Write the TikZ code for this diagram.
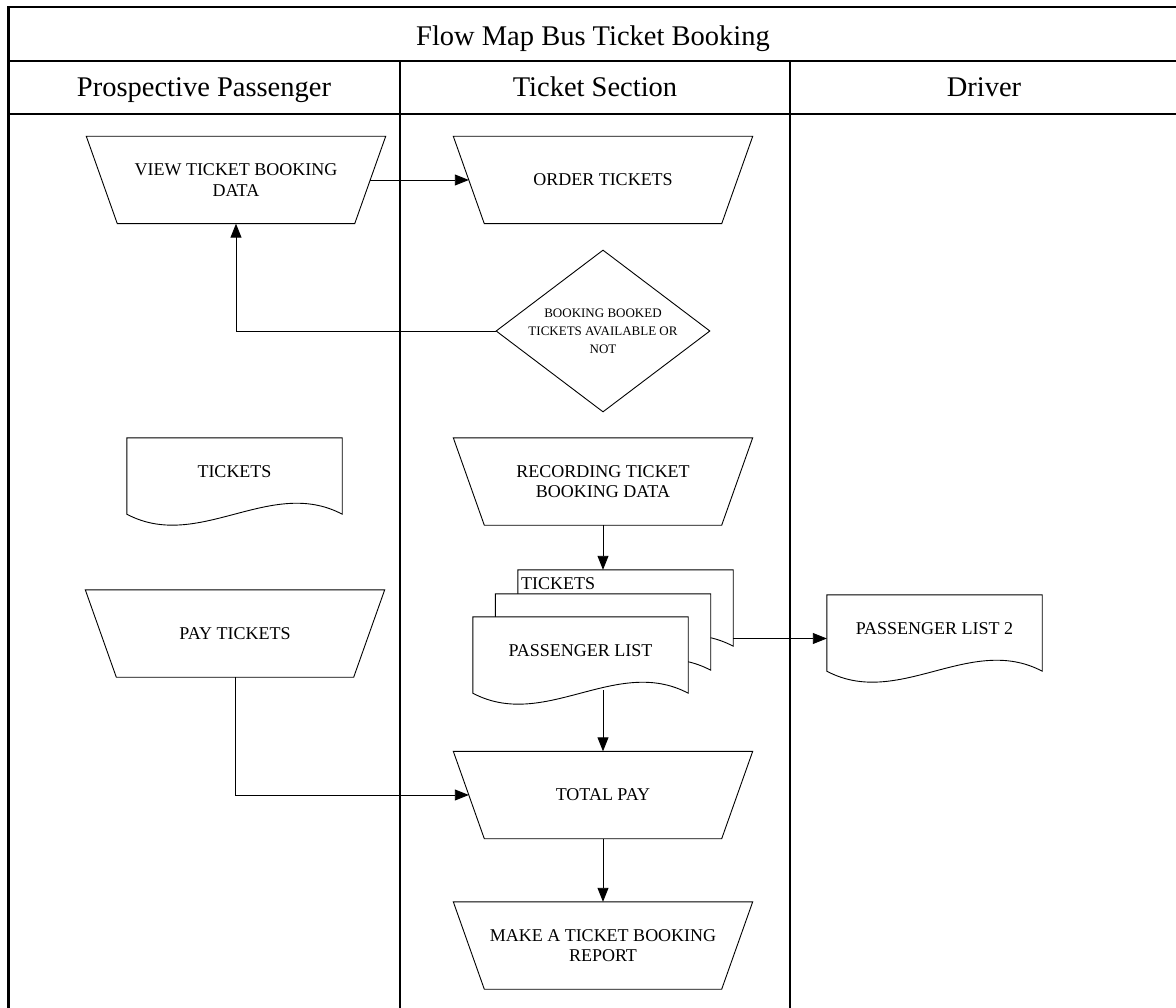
\documentclass[tikz,border=0pt]{standalone}
\usepackage{fontspec}
\setmainfont{Liberation Serif}
\usetikzlibrary{shapes.geometric,arrows.meta,calc}

\newcommand{\wavedoc}[1]{%
  \draw[shapeline, fill=white] (#1.north west) -- (#1.north east) -- ($(#1.south east)+(0,-11)$)
    .. controls ($($(#1.south east)!0.3333!(#1.south west)$)+(0,-49)$)
    and ($($(#1.south east)!0.6667!(#1.south west)$)+(0,27)$)
    .. ($(#1.south west)+(0,-11)$) -- cycle;}
\newcommand{\trapdraw}[1]{%
  \draw[shapeline] (#1.north west) -- (#1.north east) -- ($(#1.south east)+(-31,0)$)
    -- ($(#1.south west)+(31,0)$) -- cycle;}

\begin{document}
\begin{tikzpicture}[x=1pt,y=-1pt,
  frameline/.style={line width=2.2pt},
  shapeline/.style={line width=0.9pt},
  headtext/.style={font=\fontsize{28.5}{32}\selectfont, inner sep=0pt, anchor=base},
  proc/.style={rectangle, minimum width=299pt, minimum height=87pt, inner sep=0pt,
    align=center, font=\fontsize{18}{20.5}\selectfont},
  docbox/.style={rectangle, inner sep=0pt, minimum width=215pt, minimum height=87pt,
    text height=13pt, text depth=22pt, font=\fontsize{18}{20.5}\selectfont},
  decision/.style={diamond, draw, shapeline, minimum width=214pt, minimum height=162pt,
    aspect=1.32, inner sep=0pt, align=center, font=\fontsize{13}{18}\selectfont},
  arr/.style={shapeline, -{Triangle[length=14pt,width=11pt]}}]

\useasboundingbox (0,0) rectangle (1176,1008);
\clip (0,0) rectangle (1176,1008);

% table frame
\draw[frameline] (8.5,1015) -- (8.5,7) -- (1185,7);
\draw[frameline] (8.5,61) -- (1185,61);
\draw[frameline] (8.5,114) -- (1185,114);
\draw[frameline] (400,61) -- (400,1015);
\draw[frameline] (790,61) -- (790,1015);

\node[headtext] (title) at (593,46) {Flow Map Bus Ticket Booking};
\node[headtext] (h1) at (204,97) {Prospective Passenger};
\node[headtext] (h2) at (595,97) {Ticket Section};
\node[headtext] (h3) at (984,97) {Driver};

% processes (manual input trapezoids)
\node[proc] (view) at (236,180) {VIEW TICKET BOOKING\\DATA};
\trapdraw{view}
\node[proc] (order) at (603,180) {ORDER TICKETS};
\trapdraw{order}
\node[decision] (dia) at (603,331) {BOOKING BOOKED\\TICKETS AVAILABLE OR\\NOT};
\node[proc] (rec) at (603,481.5) {RECORDING TICKET\\BOOKING DATA};
\trapdraw{rec}
\node[proc] (pay) at (235,633.5) {PAY TICKETS};
\trapdraw{pay}
\node[proc] (total) at (603,795) {TOTAL PAY};
\trapdraw{total}
\node[proc] (make) at (603,945.5) {MAKE A TICKET BOOKING\\REPORT};
\trapdraw{make}

% documents
\node[docbox] (tk) at (234.5,481.5) {};
\wavedoc{tk}
\node[docbox] at (tk) {TICKETS};

\node[docbox] (p2) at (934.5,638.5) {};
\wavedoc{p2}
\node[docbox] at (p2) {PASSENGER LIST 2};

% multi-document
\node[docbox] (back) at (625.5,613.5) {};
\wavedoc{back}
\node[docbox] (mid) at (603,637.5) {};
\wavedoc{mid}
\node[docbox] (front) at (580.5,660.5) {};
\wavedoc{front}
\node[docbox] (flist) at (front) {PASSENGER LIST};
\node[anchor=west, inner sep=0pt, font=\fontsize{18}{20.5}\selectfont] (btk) at (521,584) {TICKETS};

% connectors
\draw[arr] ($(view.east)+(-15.5,0)$) -- ($(order.west)+(15.5,0)$);
\draw[arr] (dia.west) -| (view.south);
\draw[arr] (rec.south) -- (rec.south |- back.north);
\draw[arr] (back.east |- p2.west) -- (p2.west);
\draw[arr] ($(total.north |- front.south)+(0,-14)$) -- (total.north);
\draw[arr] (pay.south) |- ($(total.west)+(15.5,0)$);
\draw[arr] (total.south) -- (make.north);
\end{tikzpicture}
\end{document}
